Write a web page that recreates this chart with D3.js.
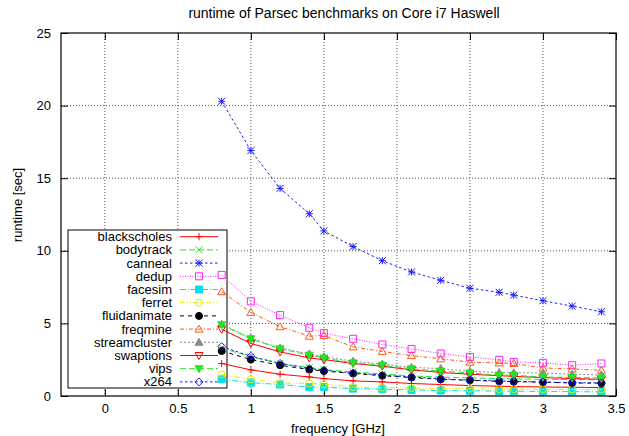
<!DOCTYPE html>
<html>
<head>
<meta charset="utf-8">
<script src="https://cdn.jsdelivr.net/npm/d3@7"></script>
<style>
  body { margin: 0; background: #fff; }
  text { font-family: "Liberation Sans", Arial, sans-serif; fill: #000; }
</style>
</head>
<body>
<div id="chart"></div>
<script>
// frequencies in GHz
var freqs = [0.8, 1.0, 1.2, 1.4, 1.5, 1.7, 1.9, 2.1, 2.3, 2.5, 2.7, 2.8, 3.0, 3.2, 3.4];

// runtime in seconds, one array per benchmark
var blackscholes  = [2.24, 1.80, 1.50, 1.31, 1.20, 1.04, 0.97, 0.86, 0.79, 0.72, 0.67, 0.65, 0.62, 0.60, 0.58];
var bodytrack     = [3.30, 2.70, 2.25, 1.95, 1.82, 1.65, 1.52, 1.38, 1.30, 1.25, 1.20, 1.18, 1.15, 1.13, 1.12];
var canneal       = [20.3, 16.9, 14.3, 12.55, 11.37, 10.29, 9.32, 8.54, 7.97, 7.42, 7.14, 6.95, 6.56, 6.19, 5.80];
var dedup         = [8.34, 6.52, 5.57, 4.70, 4.33, 3.94, 3.55, 3.24, 2.93, 2.69, 2.49, 2.35, 2.28, 2.12, 2.24];
var facesim       = [1.15, 0.92, 0.79, 0.62, 0.62, 0.51, 0.47, 0.42, 0.38, 0.36, 0.34, 0.33, 0.31, 0.30, 0.28];
var ferret        = [1.48, 1.15, 0.90, 0.86, 0.81, 0.62, 0.58, 0.55, 0.52, 0.50, 0.48, 0.47, 0.46, 0.45, 0.44];
var fluidanimate  = [3.10, 2.51, 2.12, 1.82, 1.72, 1.55, 1.40, 1.27, 1.15, 1.08, 1.01, 0.99, 0.95, 0.90, 0.88];
var freqmine      = [7.18, 5.76, 4.77, 4.12, 4.17, 3.38, 3.07, 2.78, 2.56, 2.33, 2.28, 2.24, 1.93, 1.86, 1.77];
var streamcluster = [4.95, 3.98, 3.30, 2.90, 2.70, 2.40, 2.20, 1.97, 1.89, 1.70, 1.62, 1.60, 1.59, 1.50, 1.45];
var swaptions     = [4.60, 3.62, 3.04, 2.62, 2.51, 2.24, 2.05, 1.80, 1.62, 1.50, 1.40, 1.35, 1.27, 1.20, 1.15];
var vips          = [4.90, 3.94, 3.25, 2.81, 2.62, 2.28, 2.12, 1.87, 1.71, 1.59, 1.43, 1.43, 1.31, 1.28, 1.24];
var x264          = [3.40, 2.74, 2.24, 1.89, 1.77, 1.59, 1.43, 1.31, 1.18, 1.10, 1.03, 1.01, 0.96, 0.92, 0.90];

var names = ["blackscholes", "bodytrack", "canneal", "dedup", "facesim", "ferret",
             "fluidanimate", "freqmine", "streamcluster", "swaptions", "vips", "x264"];
var values = [blackscholes, bodytrack, canneal, dedup, facesim, ferret,
              fluidanimate, freqmine, streamcluster, swaptions, vips, x264];

var xTicks = [0, 0.5, 1, 1.5, 2, 2.5, 3, 3.5];
var yTicks = [0, 5, 10, 15, 20, 25];

// gnuplot style cycle
var colors = ["#ff0000", "#22e622", "#1a1aff", "#ff22ff", "#00e0e8", "#e8e800",
              "#000000", "#ff5a1a", "#8c8c8c"];
var dashes = ["none", "6,3", "2.5,2.5", "1,1.5", "6,2,1,2", "5,2,1,2,1,2",
              "4,4", "4,2,1,2", "2,2"];
var markers = ["plus", "cross", "star", "square", "squareF", "circle", "circleF",
               "tri", "triF", "tridown", "tridownF", "diamond"];

var svgWidth = 629, svgHeight = 436;
var margin = { top: 33, right: 13, bottom: 40, left: 61 };
var width = svgWidth - margin.left - margin.right;
var height = svgHeight - margin.top - margin.bottom;

var svg = d3.select("#chart")
  .append("svg")
  .attr("width", svgWidth)
  .attr("height", svgHeight);

var chartGroup = svg.append("g")
  .attr("transform", `translate(${margin.left}, ${margin.top})`);

var xScale = d3.scaleLinear().domain([-0.3, 3.5]).range([0, width]);
var yScale = d3.scaleLinear().domain([0, 25]).range([height, 0]);

// grid
chartGroup.append("g")
  .selectAll("line.gx")
  .data(xTicks.slice(0, -1))
  .enter()
  .append("line")
  .attr("x1", d => xScale(d)).attr("x2", d => xScale(d))
  .attr("y1", 0).attr("y2", height)
  .attr("stroke", "#555").attr("stroke-dasharray", "1,2");

chartGroup.append("g")
  .selectAll("line.gy")
  .data(yTicks.slice(1, -1))
  .enter()
  .append("line")
  .attr("x1", 0).attr("x2", width)
  .attr("y1", d => yScale(d)).attr("y2", d => yScale(d))
  .attr("stroke", "#555").attr("stroke-dasharray", "1,2");

// axes with inward ticks, mirrored
var bottomAxis = d3.axisBottom(xScale).tickValues(xTicks).tickSize(-7).tickPadding(8)
  .tickFormat(d3.format(""));
var leftAxis = d3.axisLeft(yScale).tickValues(yTicks).tickSize(-7).tickPadding(10);
var topAxis = d3.axisTop(xScale).tickValues(xTicks).tickSize(-7).tickFormat("");
var rightAxis = d3.axisRight(yScale).tickValues(yTicks).tickSize(-7).tickFormat("");

function styleAxis(g) {
  g.select(".domain").remove();
  g.selectAll(".tick line").attr("stroke", "#000");
  g.selectAll(".tick text").attr("font-size", "13px")
    .attr("font-family", "Liberation Sans, Arial, sans-serif").attr("fill", "#000");
}

chartGroup.append("g").attr("transform", `translate(0, ${height})`).call(bottomAxis).call(styleAxis);
chartGroup.append("g").call(leftAxis).call(styleAxis);
chartGroup.append("g").call(topAxis).call(styleAxis);
chartGroup.append("g").attr("transform", `translate(${width}, 0)`).call(rightAxis).call(styleAxis);

// marker shapes
function markerPath(type) {
  var s = 3.5;
  switch (type) {
    case "plus": return `M${-s},0H${s}M0,${-s}V${s}`;
    case "cross": return `M${-s},${-s}L${s},${s}M${-s},${s}L${s},${-s}`;
    case "star": return `M${-s},0H${s}M0,${-s}V${s}M${-s},${-s}L${s},${s}M${-s},${s}L${s},${-s}`;
    case "square": case "squareF": return `M${-s},${-s}H${s}V${s}H${-s}Z`;
    case "circle": case "circleF":
      return `M${s},0A${s},${s} 0 1,1 ${-s},0A${s},${s} 0 1,1 ${s},0Z`;
    case "tri": case "triF": return `M0,${-s - 0.5}L${s + 0.5},${s - 0.5}L${-s - 0.5},${s - 0.5}Z`;
    case "tridown": case "tridownF": return `M0,${s + 0.5}L${s + 0.5},${-s + 0.5}L${-s - 0.5},${-s + 0.5}Z`;
    case "diamond": return `M0,${-s - 0.5}L${s + 0.5},0L0,${s + 0.5}L${-s - 0.5},0Z`;
  }
}
function isFilled(type) { return type.slice(-1) === "F"; }

// key box (opaque)
var keyBox = { x: 68 - margin.left, y: 230 - margin.top, w: 159, h: 158 };
chartGroup.append("rect")
  .attr("x", keyBox.x).attr("y", keyBox.y)
  .attr("width", keyBox.w).attr("height", keyBox.h)
  .attr("fill", "#fff").attr("stroke", "#000");

var line = d3.line()
  .x(d => xScale(d[0]))
  .y(d => yScale(d[1]));

names.forEach((name, i) => {
  var color = colors[i % 9];
  var pts = freqs.map((f, j) => [f, values[i][j]]);
  var g = chartGroup.append("g");
  g.append("path")
    .datum(pts)
    .attr("d", line)
    .attr("fill", "none")
    .attr("stroke", color)
    .attr("stroke-width", 1)
    .attr("stroke-dasharray", dashes[i % 9]);
  g.selectAll("path.m")
    .data(pts)
    .enter()
    .append("path")
    .attr("transform", d => `translate(${xScale(d[0])}, ${yScale(d[1])})`)
    .attr("d", markerPath(markers[i]))
    .attr("fill", isFilled(markers[i]) ? color : "none")
    .attr("stroke", color)
    .attr("stroke-width", 1);
});

// key entries
var keyGroup = chartGroup.append("g");
names.forEach((name, i) => {
  var color = colors[i % 9];
  var y = 236.7 - margin.top + i * 13.2;
  keyGroup.append("text")
    .attr("x", 172 - margin.left)
    .attr("y", y)
    .attr("dy", "0.35em")
    .attr("text-anchor", "end")
    .attr("font-size", "13px")
    .text(name);
  keyGroup.append("line")
    .attr("x1", 180 - margin.left).attr("x2", 218 - margin.left)
    .attr("y1", y).attr("y2", y)
    .attr("stroke", color)
    .attr("stroke-dasharray", dashes[i % 9]);
  keyGroup.append("path")
    .attr("transform", `translate(${199 - margin.left}, ${y})`)
    .attr("d", markerPath(markers[i]))
    .attr("fill", isFilled(markers[i]) ? color : "none")
    .attr("stroke", color);
});

// frame
chartGroup.append("rect")
  .attr("width", width).attr("height", height)
  .attr("fill", "none").attr("stroke", "#000").attr("stroke-width", 1.2);

// titles
svg.append("text")
  .attr("x", 344).attr("y", 13)
  .attr("dy", "0.35em")
  .attr("text-anchor", "middle")
  .attr("font-size", "14px")
  .text("runtime of Parsec benchmarks on Core i7 Haswell");

svg.append("text")
  .attr("x", 338).attr("y", 428)
  .attr("dy", "0.35em")
  .attr("text-anchor", "middle")
  .attr("font-size", "13px")
  .text("frequency [GHz]");

svg.append("text")
  .attr("transform", "translate(17, 205) rotate(-90)")
  .attr("dy", "0.35em")
  .attr("text-anchor", "middle")
  .attr("font-size", "13px")
  .text("runtime [sec]");
</script>
</body>
</html>
